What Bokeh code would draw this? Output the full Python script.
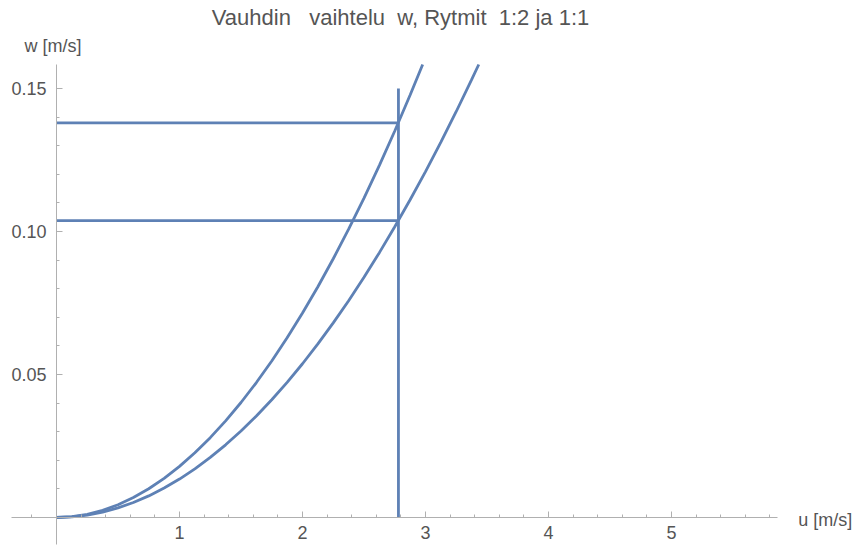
from bokeh.plotting import figure
from bokeh.models import FixedTicker, Label, Range1d
from bokeh.embed import file_html
from bokeh.resources import INLINE

# Curve samples (u in m/s, w in m/s)
u1 = [0.0, 0.125, 0.25, 0.375, 0.5, 0.625, 0.75, 0.875, 1.0, 1.125, 1.25, 1.375,
      1.5, 1.625, 1.75, 1.875, 2.0, 2.125, 2.25, 2.375, 2.5, 2.625, 2.75, 2.875, 2.977]
w1 = [0.0, 0.000279, 0.001117, 0.002513, 0.004468, 0.006980, 0.010052, 0.013682,
      0.01787, 0.022617, 0.027922, 0.033786, 0.040208, 0.047188, 0.054727, 0.062824,
      0.07148, 0.080694, 0.090467, 0.100798, 0.111688, 0.123136, 0.135142, 0.147707,
      0.1584]
u2 = [0.0, 0.125, 0.25, 0.375, 0.5, 0.625, 0.75, 0.875, 1.0, 1.125, 1.25, 1.375,
      1.5, 1.625, 1.75, 1.875, 2.0, 2.125, 2.25, 2.375, 2.5, 2.625, 2.75, 2.875,
      3.0, 3.125, 3.25, 3.375, 3.433]
w2 = [0.0, 0.00021, 0.00084, 0.00189, 0.00336, 0.00525, 0.00756, 0.01029, 0.01344,
      0.01701, 0.02100, 0.02541, 0.03024, 0.03549, 0.04116, 0.04725, 0.05376, 0.06069,
      0.06804, 0.07581, 0.08400, 0.09261, 0.10164, 0.11109, 0.12096, 0.13125, 0.14196,
      0.15309, 0.1584]

u_mark = 2.78
w_mark_top = 0.150
w_levels = [0.138, 0.1038]

x_ticks = [1, 2, 3, 4, 5]
x_minor = [round(-0.2 + 0.2 * i, 2) for i in range(31)]
y_ticks = [0.05, 0.10, 0.15]
y_tick_labels = ["0.05", "0.10", "0.15"]
y_minor = [round(-0.01 + 0.01 * i, 2) for i in range(17)]

NB = "\u00a0"
title = "Vauhdin" + NB * 3 + "vaihtelu" + NB * 2 + "w, Rytmit" + NB * 2 + "1:2 ja 1:1"
x_name = "u [m/s]"
y_name = "w [m/s]"

# plot range (Mathematica PlotRange)
X_AX = (-0.366, 5.86)
Y_AX = (-0.0094, 0.1584)

FONT = "Liberation Sans"
COL = "#5E81B5"
TXT = "#555555"
AX = "#b0b0b0"

W, H = 859, 545
PX_U = 123.0      # pixels per m/s on x
PX_W = 2860.0     # pixels per m/s on y
X0, Y0 = 56.0, 517.0   # canvas position of origin

p = figure(width=W, height=H, output_backend="svg", toolbar_location=None,
           x_range=Range1d(-X0 / PX_U, (W - X0) / PX_U),
           y_range=Range1d(-(H - Y0) / PX_W, Y0 / PX_W),
           min_border=0)
p.title = None
p.outline_line_color = None
p.grid.visible = False
p.background_fill_color = "white"

p.xaxis.fixed_location = 0
p.yaxis.fixed_location = 0
p.xaxis.bounds = X_AX
p.yaxis.bounds = Y_AX
p.xaxis.ticker = FixedTicker(ticks=x_ticks, minor_ticks=x_minor)
p.yaxis.ticker = FixedTicker(ticks=y_ticks, minor_ticks=y_minor)
p.yaxis.major_label_overrides = {t: l for t, l in zip(y_ticks, y_tick_labels)}
for ax in (p.xaxis, p.yaxis):
    ax.axis_line_color = AX
    ax.major_tick_line_color = AX
    ax.minor_tick_line_color = AX
    ax.major_tick_in = 6
    ax.major_tick_out = 0
    ax.minor_tick_in = 3
    ax.minor_tick_out = 0
    ax.major_label_text_font = FONT
    ax.major_label_text_font_size = "18px"
    ax.major_label_text_color = TXT
p.xaxis.major_label_standoff = 8
p.yaxis.major_label_standoff = 10

p.line(u1, w1, line_color=COL, line_width=2.8)
p.line(u2, w2, line_color=COL, line_width=2.8)
p.segment(x0=[u_mark], y0=[0.0], x1=[u_mark], y1=[w_mark_top], line_color=COL, line_width=2.8)
p.segment(x0=[0.0, 0.0], y0=w_levels, x1=[u_mark, u_mark], y1=w_levels,
          line_color=COL, line_width=2.8)

p.add_layout(Label(x=(400 - X0) / PX_U, y=(Y0 - 17) / PX_W, text=title, text_font=FONT,
                   text_font_size="22px", text_color=TXT, text_align="center",
                   text_baseline="middle"))
p.add_layout(Label(x=-0.26, y=(Y0 - 45) / PX_W, text=y_name,
                   text_font=FONT, text_font_size="18px", text_color=TXT,
                   text_baseline="middle"))
p.add_layout(Label(x=X_AX[1], y=0.0, x_offset=21, y_offset=-2, text=x_name,
                   text_font=FONT, text_font_size="18px", text_color=TXT,
                   text_baseline="middle"))

open("out.html", "w").write(file_html(p, INLINE))
